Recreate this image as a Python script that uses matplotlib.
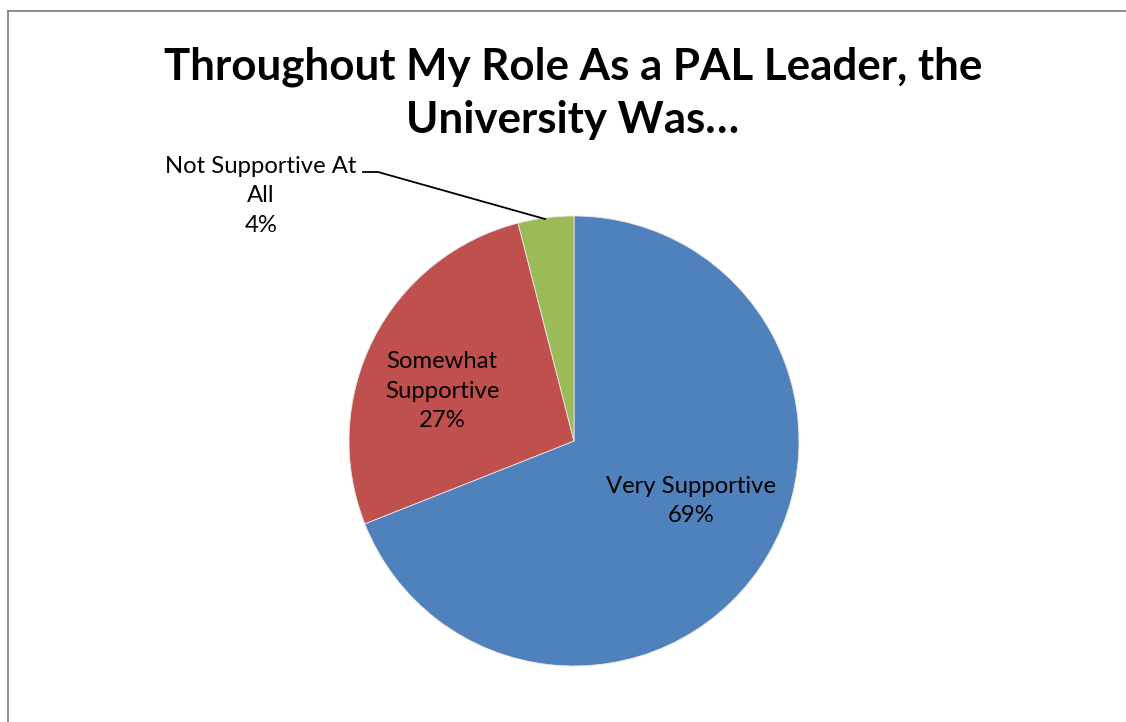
import matplotlib
matplotlib.use('Agg')
import matplotlib.pyplot as plt
from matplotlib.lines import Line2D

# ── Données du sondage ───────────────────────────────────
categories = ["Very Supportive", "Somewhat\nSupportive", "Not Supportive At\nAll"]
shares = [69, 27, 4]
colors = ["#4F81BD", "#C0504D", "#9BBB59"]

title = "Throughout My Role As a PAL Leader, the\nUniversity Was…"

W, H = 1126, 722
fig = plt.figure(figsize=(W / 100, H / 100), dpi=100)
plt.rcParams['font.family'] = ['Lato', 'DejaVu Sans']

# cadre gris (bords gauche et haut visibles)
fig.add_artist(Line2D([8 / W, 1], [1 - 11 / H, 1 - 11 / H], color="#868686", lw=1.3))
fig.add_artist(Line2D([8 / W, 8 / W], [0, 1 - 11 / H], color="#868686", lw=1.3))

# ── Camembert : centre (574, 441) px, rayon 225 px ───────
cx, cy, r = 574, 441, 225
ax = fig.add_axes([(cx - r) / W, (H - cy - r) / H, 2 * r / W, 2 * r / H])
ax.pie(shares, colors=colors, startangle=90, counterclock=False, radius=1,
       wedgeprops=dict(linewidth=0.6, edgecolor="#e8e8e8"))
ax.set_xlim(-1, 1)
ax.set_ylim(-1, 1)
ax.set_aspect('auto')
ax.axis('off')

# positions des étiquettes (coordonnées du camembert)
label_pos = [(0.52, -0.267), (-0.587, 0.222), (-1.391, 1.089)]
for name, val, (x, y) in zip(categories, shares, label_pos):
    ax.text(x, y, f"{name}\n{val}%", ha='center', va='center', fontsize=17.2,
            linespacing=1.5, color="black", clip_on=False)

# trait de rappel pour la petite part
lx = [(363 - cx) / r, (378 - cx) / r, (545 - cx) / r]
ly = [(cy - 172) / r, (cy - 172) / r, (cy - 219) / r]
ax.plot(lx, ly, color="black", lw=1.3, clip_on=False)

fig.text(573 / W, 1 - 93 / H, title, ha='center', va='center', fontsize=31.6,
         fontweight='bold', linespacing=1.38)

plt.savefig("out.png", dpi=100)
plt.close()
